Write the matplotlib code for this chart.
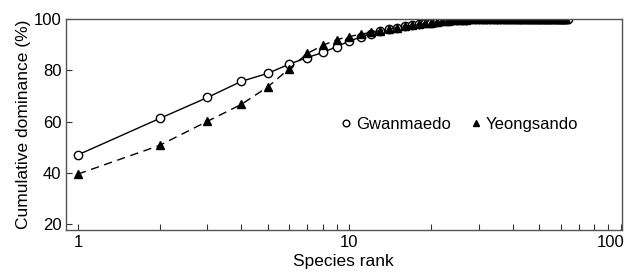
import matplotlib
matplotlib.use("Agg")
import matplotlib.pyplot as plt
import matplotlib.transforms as mtransforms
from matplotlib.ticker import LogLocator, NullFormatter, FixedLocator

plt.rcParams['font.family'] = ['Liberation Sans', 'DejaVu Sans']

# cumulative dominance (%) by species rank
gwan_rank = list(range(1, 65))
gwan_cum = [47.0, 61.2, 69.4, 75.7, 78.8, 82.4, 85.0, 87.0, 89.3, 91.4,
            93.0, 94.3, 95.2, 96.0, 96.6, 97.2, 97.6, 98.0, 98.3, 98.6,
            98.9, 99.1, 99.3, 99.5, 99.6, 99.7, 99.8, 99.85, 99.9, 99.92,
            99.94, 99.95, 99.96, 99.97, 99.97, 99.98, 99.98, 99.98, 99.99, 99.99,
            99.99, 99.99, 99.99, 99.99, 100, 100, 100, 100, 100, 100,
            100, 100, 100, 100, 100, 100, 100, 100, 100, 100,
            100, 100, 100, 100]
yeong_rank = list(range(1, 64))
yeong_cum = [39.5, 50.7, 60.1, 66.7, 73.5, 80.6, 86.6, 89.8, 92.0, 93.2,
             94.1, 94.8, 95.5, 96.1, 96.7, 97.3, 97.6, 97.9, 98.3, 98.6,
             98.9, 99.1, 99.3, 99.5, 99.6, 99.7, 99.8, 99.85, 99.9, 99.92,
             99.94, 99.95, 99.96, 99.97, 99.97, 99.98, 99.98, 99.98, 99.99, 99.99,
             99.99, 99.99, 99.99, 99.99, 100, 100, 100, 100, 100, 100,
             100, 100, 100, 100, 100, 100, 100, 100, 100, 100,
             100, 100, 100]

fig = plt.figure(figsize=(6.24, 2.77), dpi=100)
ax = fig.add_axes([0.106, 0.170, 0.890, 0.761])

ax.plot(gwan_rank, gwan_cum, '-', color='black', lw=1.0, marker='o', ms=6,
        mfc='white', mec='black', mew=1.0, label='Gwanmaedo')
ax.plot(yeong_rank, yeong_cum, '--', color='black', lw=1.0, marker='^', ms=6,
        mfc='black', mec='black', dashes=(6, 4), label='Yeongsando')

ax.set_xscale('log')
ax.set_xlim(0.905, 100.6)
ax.set_ylim(17.7, 100)
ax.xaxis.set_major_locator(FixedLocator([1, 10, 100]))
ax.set_xticklabels(['1', '10', '100'])
ax.xaxis.set_minor_locator(LogLocator(base=10, subs=range(2, 10)))
ax.xaxis.set_minor_formatter(NullFormatter())
ax.set_yticks([20, 40, 60, 80, 100])

ax.tick_params(which='both', direction='in', labelsize=12, color='#333333')
ax.tick_params(which='major', length=4, width=0.8)
ax.tick_params(which='minor', length=4, width=0.8)
for s in ax.spines.values():
    s.set_color('#555555')
    s.set_linewidth(1.0)

# keep the "100" label inside the picture, as in the original
lbl = ax.get_xticklabels()[-1]
lbl.set_transform(lbl.get_transform() + mtransforms.ScaledTranslation(-10 / 100, 0, fig.dpi_scale_trans))

ax.set_xlabel('Species rank', fontsize=12.5, labelpad=3)
ax.set_ylabel('Cumulative dominance (%)', fontsize=12.5, labelpad=2)

leg = ax.legend(loc='center', bbox_to_anchor=(0.709, 0.50), ncol=2, frameon=False,
                fontsize=12, handlelength=0.6, handletextpad=0.3, columnspacing=1.2,
                markerscale=0.8)
for h in leg.get_lines():
    h.set_linestyle('')

fig.savefig('out.png', dpi=100)
